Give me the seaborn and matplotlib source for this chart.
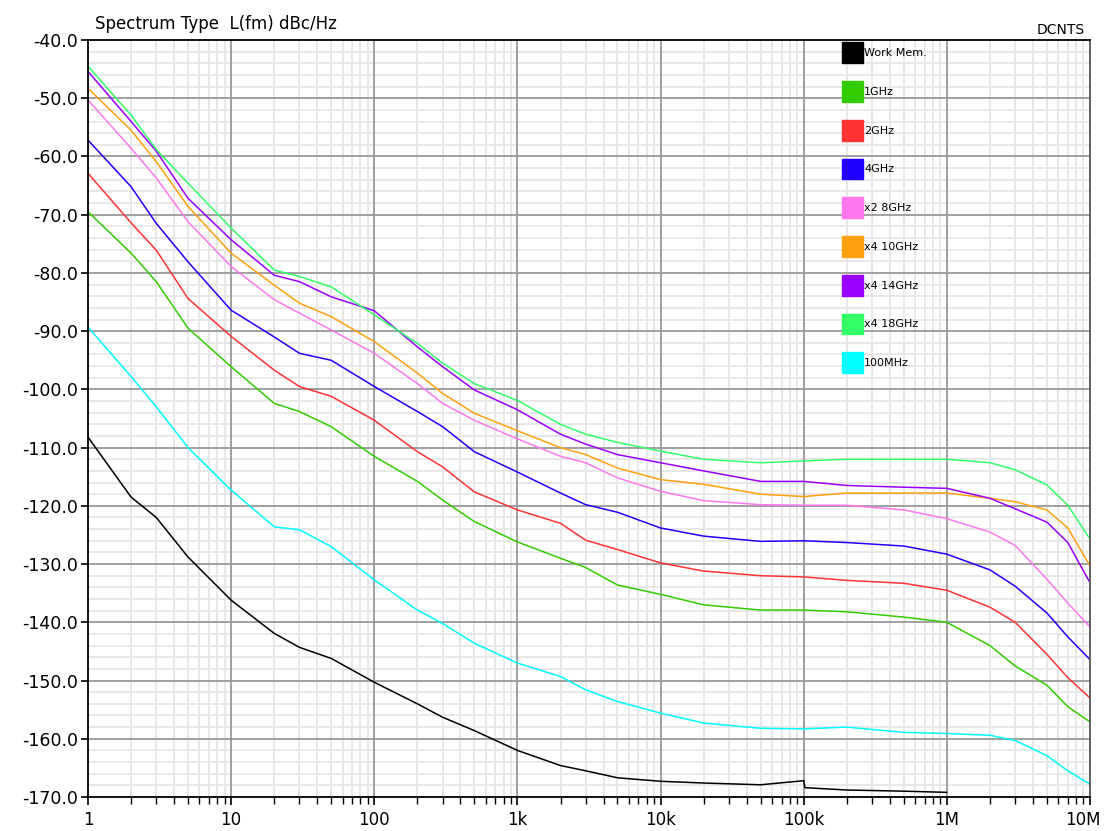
import numpy as np
import pandas as pd
import matplotlib
matplotlib.use('Agg')
import matplotlib.pyplot as plt
import matplotlib.transforms as mtransforms
from matplotlib.patches import Patch
from matplotlib.ticker import FixedLocator, FuncFormatter, MultipleLocator
import seaborn as sns

# offset frequencies (Hz)
freqs = [1, 2, 3, 5, 10, 20, 30, 50, 100, 200, 300, 500,
         1e3, 2e3, 3e3, 5e3, 1e4, 2e4, 5e4, 1e5, 2e5, 5e5,
         1e6, 2e6, 3e6, 5e6, 7e6, 1e7]

ghz1 = [-69.5, -76.6, -81.5, -89.5, -96.1, -102.4, -103.8, -106.4, -111.5, -115.8, -119.0, -122.7,
        -126.2, -129.0, -130.6, -133.6, -135.2, -137.0, -137.9, -137.9, -138.2, -139.1,
        -140.0, -144.0, -147.5, -150.8, -154.5, -157.1]
ghz2 = [-62.9, -71.4, -76.1, -84.4, -90.9, -96.7, -99.5, -101.2, -105.3, -110.7, -113.3, -117.6,
        -120.7, -123.0, -125.9, -127.5, -129.8, -131.2, -132.0, -132.2, -132.8, -133.3,
        -134.5, -137.4, -140.0, -145.5, -149.5, -153.0]
ghz4 = [-57.2, -65.2, -71.5, -78.1, -86.4, -91.0, -93.8, -95.0, -99.5, -103.8, -106.4, -110.7,
        -114.2, -117.8, -119.8, -121.1, -123.8, -125.2, -126.1, -126.0, -126.3, -126.9,
        -128.3, -131.0, -133.8, -138.4, -142.5, -146.4]
x2_8ghz = [-50.3, -58.6, -63.7, -71.2, -78.9, -84.6, -86.9, -89.8, -93.8, -99.0, -102.4, -105.3,
           -108.5, -111.5, -112.6, -115.2, -117.5, -119.1, -119.8, -119.9, -119.9, -120.7,
           -122.2, -124.5, -126.8, -132.6, -136.7, -140.8]
x4_10ghz = [-48.3, -55.5, -60.9, -68.6, -76.6, -82.1, -85.2, -87.5, -91.8, -97.2, -100.7, -104.1,
            -107.1, -110.0, -111.2, -113.5, -115.5, -116.3, -118.0, -118.4, -117.8, -117.8,
            -117.8, -118.7, -119.3, -120.7, -123.8, -130.3]
x4_14ghz = [-45.4, -54.0, -59.1, -67.2, -74.3, -80.4, -81.5, -84.1, -86.5, -92.7, -96.1, -100.1,
            -103.5, -107.7, -109.4, -111.2, -112.6, -114.0, -115.8, -115.8, -116.5, -116.8,
            -117.0, -118.7, -120.5, -122.8, -126.3, -133.2]
x4_18ghz = [-44.5, -52.9, -58.8, -64.6, -72.3, -79.5, -80.6, -82.4, -87.2, -92.1, -95.5, -99.0,
            -101.9, -106.0, -107.7, -109.1, -110.6, -112.0, -112.6, -112.3, -112.0, -112.0,
            -112.0, -112.6, -113.8, -116.4, -119.9, -125.7]
mhz100 = [-89.3, -97.8, -103.0, -110.0, -117.3, -123.6, -124.1, -127.0, -132.7, -137.9, -140.2, -143.6,
          -147.0, -149.3, -151.6, -153.6, -155.6, -157.3, -158.2, -158.3, -158.0, -158.9,
          -159.1, -159.4, -160.3, -162.9, -165.5, -167.8]

# memory trace stops at 1M and steps down just after 100k
mem_freqs = [1, 2, 3, 5, 10, 20, 30, 50, 100, 200, 300, 500,
             1e3, 2e3, 3e3, 5e3, 1e4, 2e4, 5e4, 1e5, 1.02e5, 2e5, 5e5, 1e6]
work_mem = [-108.2, -118.5, -122.0, -128.8, -136.2, -141.9, -144.3, -146.2, -150.3, -154.0, -156.3, -158.6,
            -162.0, -164.6, -165.5, -166.7, -167.3, -167.6, -167.9, -167.2, -168.4, -168.8, -169.0, -169.2]

labels = ['Work Mem.', '1GHz', '2GHz', '4GHz', 'x2 8GHz', 'x4 10GHz', 'x4 14GHz', 'x4 18GHz', '100MHz']
colors = ['#000000', '#33CC00', '#FF3333', '#2200FF', '#FF77EE', '#FFA010', '#9900FF', '#33FF66', '#00FFFF']
series = [work_mem, ghz1, ghz2, ghz4, x2_8ghz, x4_10ghz, x4_14ghz, x4_18ghz, mhz100]

xticks = [1, 10, 100, 1e3, 1e4, 1e5, 1e6, 1e7]
xlabels = ['1', '10', '100', '1k', '10k', '100k', '1M', '10M']
yticks = list(range(-170, -39, 10))

frames = []
for lab, vals in zip(labels, series):
    f = mem_freqs if lab == 'Work Mem.' else freqs
    frames.append(pd.DataFrame({'freq': f, 'dbc': vals, 'trace': lab}))
df = pd.concat(frames, ignore_index=True)

sns.set_style('white')
plt.rcParams['font.family'] = ['DejaVu Sans']
plt.rcParams['text.color'] = 'black'
plt.rcParams['xtick.color'] = 'black'
plt.rcParams['ytick.color'] = 'black'

fig = plt.figure(figsize=(11.06, 8.31), dpi=100)
ax = fig.add_axes([88 / 1106, 1 - 797 / 831, 1002 / 1106, 757 / 831])

sns.lineplot(data=df, x='freq', y='dbc', hue='trace', hue_order=labels,
             palette=dict(zip(labels, colors)), estimator=None, sort=False,
             linewidth=1.1, legend=False, ax=ax, zorder=3)

ax.set_xscale('log')
ax.set_xlim(1, 1e7)
ax.set_ylim(-170, -40)

ax.yaxis.set_major_locator(FixedLocator(yticks))
ax.yaxis.set_minor_locator(MultipleLocator(2))
ax.yaxis.set_major_formatter(FuncFormatter(lambda v, p: f'{v:.1f}'))

ax.xaxis.set_major_locator(FixedLocator(xticks))
ax.set_xticklabels(xlabels)
ax.xaxis.set_minor_locator(matplotlib.ticker.LogLocator(base=10, subs=np.arange(2, 10), numticks=20))
ax.xaxis.set_minor_formatter(matplotlib.ticker.NullFormatter())

# light minor grid underneath, darker major grid drawn on top of it
ax.grid(which='minor', color='#e6e6e6', linewidth=1.3)
ax.grid(which='major', visible=False)
ax.set_axisbelow(True)
for xv in xticks[1:-1]:
    ax.axvline(xv, color='#999999', linewidth=1.3, zorder=1)
for yv in yticks[1:-1]:
    ax.axhline(yv, color='#999999', linewidth=1.3, zorder=1)

ax.tick_params(axis='x', which='major', direction='out', length=6, width=1.2, labelsize=12, bottom=True, pad=4)
ax.tick_params(axis='x', which='minor', direction='out', length=5, width=1.0, bottom=True)
ax.tick_params(axis='y', which='major', direction='out', length=5, width=1.2, labelsize=12.5, left=True, pad=2)
ax.tick_params(axis='y', which='minor', left=False)

for s in ax.spines.values():
    s.set_color('black')
    s.set_linewidth(1.3)
    s.set_zorder(4)
ax.spines['right'].set_color('#555555')

ax.set_xlabel('')
ax.set_ylabel('')

# nudge the last x label so it stays inside the canvas
last = ax.get_xticklabels()[-1]
last.set_transform(last.get_transform() + mtransforms.ScaledTranslation(-5 / 72, 0, fig.dpi_scale_trans))

handles = [Patch(facecolor=c, edgecolor=c) for c in colors]
leg = ax.legend(handles, labels, loc='upper left', bbox_to_anchor=(0.7525, 0.997),
                frameon=False, fontsize=8, handlelength=1.9, handleheight=2.5,
                handletextpad=0.1, labelspacing=1.62, borderpad=0, borderaxespad=0)
leg.set_zorder(5)

fig.text(95 / 1106, 1 - 24 / 831, 'Spectrum Type  L(fm) dBc/Hz', fontsize=12, va='center', ha='left')
fig.text(1085 / 1106, 1 - 30 / 831, 'DCNTS', fontsize=10, va='center', ha='right')

fig.savefig('out.png', dpi=100)
